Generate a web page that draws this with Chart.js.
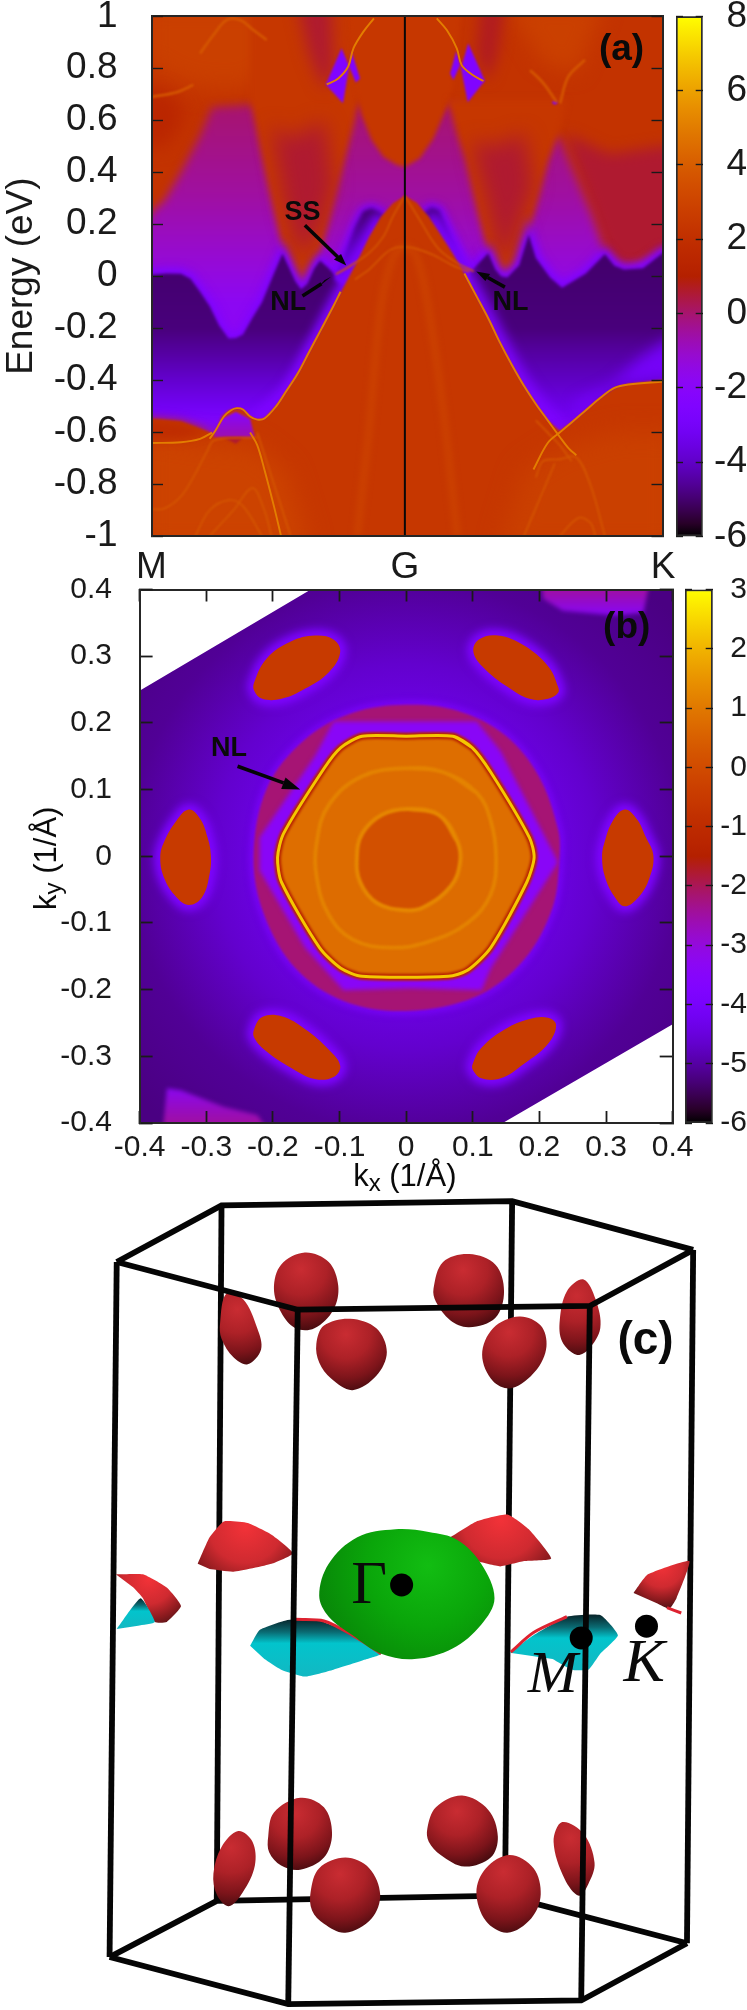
<!DOCTYPE html>
<html>
<head>
<meta charset="utf-8">
<style>
  html, body { margin: 0; padding: 0; background: #fff; }
  body { position: relative; width: 747px; height: 2010px; overflow: hidden; }
  canvas { position: absolute; }
</style>
<script src="https://cdn.jsdelivr.net/npm/chart.js@4"></script>
</head>
<body>
<canvas id="panelA" width="680" height="585" style="left:0;top:0"></canvas>
<canvas id="barA" width="71" height="560" style="left:676px;top:0"></canvas>
<canvas id="panelB" width="720" height="640" style="left:0;top:570px"></canvas>
<canvas id="barB" width="62" height="580" style="left:685px;top:570px"></canvas>
<canvas id="panelC" width="747" height="830" style="left:0;top:1180px"></canvas>
<script>
// ---- panel (a): ticks
const energyTicks = [-1, -0.8, -0.6, -0.4, -0.2, 0, 0.2, 0.4, 0.6, 0.8, 1];
const pathTicks = [318, 850, 1392];
const pathLabels = ['M', 'G', 'K'];
const barTicksA = [-6, -4, -2, 0, 2, 4, 6, 8];

// ---- panel (a): regions, [path position, energy]
const wholeA = [[300, 1.05], [1420, 1.05], [1420, -1.05], [300, -1.05]];
const lightUpper = [[300, 1.05], [600, 1.05], [620, 0.85], [520, 0.72], [440, 0.72], [380, 0.74], [300, 0.82]];
const lightTopRight = [[1060, 1.05], [1270, 1.05], [1210, 0.78], [1140, 0.82]];
const wineLeftTop = [[300, 0.73], [360, 0.7], [390, 0.62], [350, 0.5], [300, 0.5]];
const wineRight = [[1185, 0.55], [1280, 0.47], [1392, 0.5], [1420, 0.5], [1420, 0.08], [1392, 0.09], [1310, 0.02], [1270, 0.09], [1242, 0.235]];
const magentaBand = [[300, 0.2], [318, 0.246], [345, 0.29], [380, 0.4], [420, 0.54], [445, 0.65], [525, 0.66], [950, 0.66], [1100, 0.6], [1175, 0.53], [1242, 0.235], [1270, 0.09], [1310, 0.02], [1392, 0.09], [1420, 0.1], [1420, -0.3], [300, -0.3]];
const parabolaLeft = [[525, 0.68], [545, 0.5], [560, 0.37], [575, 0.25], [590, 0.136], [605, 0.05], [620, -0.01], [632, -0.05], [645, -0.03], [660, 0.03], [680, 0.14], [700, 0.28], [720, 0.42], [745, 0.6], [760, 0.75], [790, 1.05], [525, 1.05]];
const parabolaCentre = [[745, 0.74], [759, 0.62], [780, 0.524], [805, 0.459], [833, 0.428], [850, 0.42], [881, 0.453], [910, 0.53], [934, 0.633], [952, 0.736], [970, 1.05], [730, 1.05]];
const parabolaRight = [[940, 0.68], [960, 0.54], [976, 0.453], [1004, 0.235], [1025, 0.09], [1040, 0.026], [1052, 0], [1065, -0.005], [1078, 0.01], [1090, 0.042], [1100, 0.09], [1120, 0.235], [1151, 0.44], [1175, 0.56], [1190, 0.68]];
const wineInnerLeft = [[570, 0.58], [615, 0.53], [680, 0.6], [700, 0.35], [675, 0.2], [640, 0.08], [625, 0.1], [600, 0.25]];
const wineInnerRight = [[990, 0.52], [1040, 0.5], [1100, 0.55], [1120, 0.35], [1090, 0.2], [1065, 0.06], [1045, 0.1], [1020, 0.3]];
const wineTopLeft = [[625, 1.05], [695, 1.05], [700, 0.78], [680, 0.72], [650, 0.85]];
const wineTopRight = [[1010, 1.05], [1060, 1.05], [1045, 0.85], [1025, 0.75], [1000, 0.85]];
const darkLeft = [[300, 0], [318, 0.005], [350, 0.01], [380, 0.009], [400, -0.01], [420, -0.06], [440, -0.115], [460, -0.19], [480, -0.24], [495, -0.238], [510, -0.225], [530, -0.16], [550, -0.1], [575, 0.01], [593, 0.087], [605, 0.04], [620, -0.02], [632, -0.05], [645, -0.03], [660, 0.03], [672, 0.06], [690, 0.03], [705, 0], [725, -0.03], [800, -0.3], [600, -0.62], [300, -0.62]];
const darkRight = [[985, 0.01], [1025, 0.089], [1040, 0.026], [1052, 0], [1065, -0.005], [1090, 0.042], [1110, 0.16], [1125, 0.07], [1155, -0.005], [1180, -0.045], [1230, 0.01], [1270, 0.085], [1290, 0.04], [1310, 0.026], [1350, 0.03], [1392, 0.09], [1420, 0.1], [1420, -0.7], [1150, -0.7], [1000, -0.2]];
const wedgeLeft = [[700, -0.01], [720, 0.07], [745, 0.19], [762, 0.25], [780, 0.262], [800, 0.245], [815, 0.2], [790, 0.1], [760, 0], [720, -0.04]];
const wedgeRight = [[985, 0.02], [960, 0.1], [935, 0.2], [922, 0.255], [905, 0.265], [888, 0.24], [880, 0.2], [925, 0.08], [965, -0.03]];
const brightRight = [[1210, -0.55], [1300, -0.42], [1392, -0.4], [1420, -0.4], [1420, -0.23], [1392, -0.255], [1340, -0.32], [1280, -0.42], [1210, -0.48]];
const domeEdgeLeft = [[540, -0.55], [600, -0.445], [650, -0.288], [700, -0.115], [750, 0.057], [800, 0.23]];
const domeEdgeRight = [[900, 0.23], [950, 0.089], [1000, -0.076], [1050, -0.257], [1100, -0.422], [1175, -0.595]];
const dome = [[300, -0.555], [318, -0.548], [380, -0.558], [440, -0.6], [452, -0.61], [465, -0.54], [480, -0.516], [495, -0.508], [510, -0.513], [525, -0.54], [540, -0.552], [555, -0.548], [580, -0.5], [600, -0.445], [625, -0.375], [650, -0.288], [675, -0.202], [700, -0.115], [725, -0.029], [750, 0.057], [775, 0.152], [800, 0.23], [825, 0.281], [850, 0.309], [875, 0.282], [900, 0.23], [925, 0.16], [950, 0.089], [975, 0.01], [1000, -0.076], [1025, -0.162], [1050, -0.257], [1075, -0.343], [1100, -0.422], [1125, -0.492], [1150, -0.555], [1175, -0.595], [1200, -0.563], [1230, -0.516], [1260, -0.469], [1290, -0.43], [1320, -0.414], [1392, -0.399], [1420, -0.399], [1420, -1.05], [300, -1.05]];
const lightLowerLeft = [[300, -0.6], [440, -0.64], [530, -0.65], [600, -0.75], [650, -1.05], [300, -1.05]];
const lightLowerRight = [[1100, -0.75], [1175, -0.66], [1300, -0.6], [1420, -0.6], [1420, -1.05], [1050, -1.05]];
const wineShelf = [[300, -0.55], [380, -0.56], [440, -0.6], [380, -0.63], [300, -0.63]];
const bumpHollow = [[448, -0.62], [465, -0.55], [495, -0.522], [525, -0.55], [535, -0.62]];
const bumpCap = [[470, -0.622], [490, -0.622], [510, -0.622], [495, -0.645]];
const diamondsA = [
  [[684, 0.738], [717, 0.877], [733, 0.807], [720, 0.665]],
  [[738, 0.864], [756, 0.761], [747, 0.745], [733, 0.807]],
  [[958, 0.866], [966, 0.813], [952, 0.755], [945, 0.78]],
  [[983, 0.896], [1018, 0.752], [982, 0.669], [968, 0.8]],
  [[1158, 0.668], [1165, 0.676], [1172, 0.668], [1165, 0.66]]
];

// ---- panel (a): thin bands, [path position, energy]
const brightBands = [
  [[440, -0.626], [452, -0.595], [470, -0.54], [485, -0.516], [497, -0.508], [510, -0.513], [525, -0.54], [540, -0.552], [555, -0.548], [580, -0.5], [600, -0.445], [625, -0.375], [650, -0.288], [675, -0.202], [700, -0.115], [715, -0.06]],
  [[975, 0.01], [1000, -0.076], [1025, -0.162], [1050, -0.257], [1075, -0.343], [1100, -0.422], [1125, -0.492], [1150, -0.555], [1175, -0.618], [1195, -0.665], [1210, -0.689]],
  [[1120, -0.744], [1150, -0.642], [1175, -0.602], [1200, -0.563], [1230, -0.516], [1260, -0.469], [1290, -0.43], [1320, -0.417], [1392, -0.406]],
  [[318, -0.642], [380, -0.639], [420, -0.626], [445, -0.602]],
  [[525, -0.602], [540, -0.65], [555, -0.744], [575, -0.885], [590, -1]],
  [[686, 0.738], [710, 0.761], [731, 0.807], [742, 0.877], [763, 0.941], [785, 0.992]],
  [[917, 0.992], [938, 0.947], [959, 0.877], [969, 0.813], [990, 0.777], [1015, 0.751]]
];
const softBands = [
  [[318, 0.69], [371, 0.708], [406, 0.736]],
  [[420, 0.857], [448, 0.928], [476, 0.986], [504, 0.986], [532, 0.947], [560, 0.909]],
  [[1113, 0.793], [1141, 0.742], [1169, 0.669]],
  [[1228, 0.832], [1193, 0.767], [1176, 0.665]]
];
const faintBands = [
  [[318, -0.897], [345, -0.894], [380, -0.847], [410, -0.76], [435, -0.673], [450, -0.631], [540, -0.621]],
  [[540, -0.602], [565, -0.744], [590, -0.885], [610, -1]],
  [[410, -1], [440, -0.901], [480, -0.862], [510, -0.885], [550, -1]],
  [[440, -1], [490, -0.901], [530, -0.815], [555, -0.901], [570, -1]],
  [[745, -0.013], [775, 0.026], [810, 0.089], [830, 0.109], [850, 0.112], [875, 0.105], [910, 0.081], [950, 0.042], [985, 0.018]],
  [[705, 0.007], [735, 0.039], [775, 0.089], [805, 0.152], [825, 0.23], [850, 0.309]],
  [[850, 0.309], [880, 0.22], [905, 0.144], [925, 0.097], [960, 0.05], [995, 0.018]],
  [[1125, -0.775], [1140, -0.712], [1175, -0.705], [1210, -0.697], [1240, -0.806], [1270, -1]],
  [[1100, -1], [1130, -0.87], [1165, -0.72]],
  [[1175, -1], [1215, -0.93], [1240, -0.95], [1250, -1]],
  [[1125, -0.555], [1150, -0.602], [1175, -0.65], [1200, -0.712]]
];
const wideBands = [
  [[750, -1], [775, -0.587], [800, -0.115], [825, 0.073], [850, 0.112], [875, 0.073], [900, -0.131], [930, -0.508], [960, -1]]
];

// ---- panel (a): arrows and labels, [path position, energy]
const arrowsA = [
  { tail: [[640, 0.196], [709, 0.074]], head: [[727, 0.041], [716, 0.085], [701, 0.064]] },
  { tail: [[635, -0.076], [675, -0.029]], head: [[695, -0.002], [681, -0.016], [669, -0.041]] },
  { tail: [[1060, -0.042], [1024, -0.005]], head: [[1000, 0.018], [1029, 0.008], [1019, -0.019]] }
];
const notesA = [
  { text: 'SS', at: [635, 0.246], font: 'bold 27px "Liberation Sans"' },
  { text: 'NL', at: [605, -0.1], font: 'bold 27px "Liberation Sans"' },
  { text: 'NL', at: [1072, -0.1], font: 'bold 27px "Liberation Sans"' },
  { text: '(a)', at: [1305, 0.87], font: 'bold 37px "Liberation Sans"' }
];

// ---- panel (b): ticks
const kTicks = [-0.4, -0.3, -0.2, -0.1, 0, 0.1, 0.2, 0.3, 0.4];
const barTicksB = [-6, -5, -4, -3, -2, -1, 0, 1, 2, 3];

// ---- panel (b): regions, [kx, ky]
const zoneB = [[-0.4, 0.248], [-0.143, 0.4], [0.4, 0.4], [0.4, -0.252], [0.145, -0.4], [-0.4, -0.4]];
const cornerTop = [[0.2025, 0.42], [0.206, 0.386], [0.235, 0.368], [0.313, 0.361], [0.356, 0.365], [0.367, 0.42]];
const cornerBottom = [[-0.366, -0.42], [-0.359, -0.348], [-0.338, -0.351], [-0.273, -0.376], [-0.223, -0.388], [-0.202, -0.42]];
const pockets = [
  [[-0.228, 0.261], [-0.209, 0.297], [-0.173, 0.322], [-0.137, 0.331], [-0.109, 0.325], [-0.099, 0.306], [-0.116, 0.276], [-0.152, 0.251], [-0.187, 0.236], [-0.216, 0.236], [-0.228, 0.248]],
  [[0.228, 0.254], [0.213, 0.285], [0.177, 0.316], [0.138, 0.331], [0.109, 0.325], [0.101, 0.306], [0.117, 0.282], [0.152, 0.254], [0.185, 0.236], [0.213, 0.236], [0.228, 0.245]],
  [[-0.228, -0.259], [-0.216, -0.241], [-0.187, -0.24], [-0.152, -0.259], [-0.116, -0.29], [-0.099, -0.314], [-0.109, -0.331], [-0.137, -0.334], [-0.173, -0.317], [-0.209, -0.293], [-0.228, -0.272]],
  [[0.1, -0.311], [0.113, -0.287], [0.149, -0.259], [0.185, -0.244], [0.213, -0.242], [0.225, -0.253], [0.213, -0.281], [0.177, -0.311], [0.142, -0.333], [0.113, -0.333], [0.1, -0.32]],
  [[-0.326, 0.07], [-0.345, 0.053], [-0.363, 0.022], [-0.369, -0.002], [-0.363, -0.033], [-0.345, -0.061], [-0.326, -0.073], [-0.306, -0.061], [-0.295, -0.027], [-0.293, 0.001], [-0.298, 0.028], [-0.309, 0.056]],
  [[0.328, 0.07], [0.31, 0.053], [0.298, 0.022], [0.294, -0.002], [0.299, -0.033], [0.313, -0.061], [0.328, -0.075], [0.349, -0.061], [0.365, -0.033], [0.371, 0.001], [0.36, 0.028], [0.346, 0.056]]
];
const wineDisc = [[0, 0.227], [0.077, 0.218], [0.149, 0.181], [0.199, 0.12], [0.228, 0.04], [0.23, -0.002], [0.22, -0.076], [0.177, -0.155], [0.106, -0.21], [0, -0.232], [-0.094, -0.217], [-0.166, -0.168], [-0.213, -0.088], [-0.229, -0.002], [-0.209, 0.102], [-0.152, 0.175], [-0.08, 0.215]];
const violetStar = [[-0.109, 0.202], [0.106, 0.202], [0.142, 0.157], [0.228, -0.009], [0.127, -0.168], [0.113, -0.201], [0.006, -0.198], [-0.094, -0.201], [-0.152, -0.137], [-0.22, -0.021], [-0.22, 0.028], [-0.137, 0.15]];
const hexagon = [[0, 0.18], [0.07, 0.18], [0.099, 0.163], [0.127, 0.126], [0.185, 0.028], [0.192, -0.002], [0.181, -0.039], [0.127, -0.137], [0.092, -0.171], [0.063, -0.18], [-0.066, -0.18], [-0.098, -0.168], [-0.13, -0.137], [-0.187, -0.039], [-0.193, -0.002], [-0.184, 0.034], [-0.123, 0.132], [-0.098, 0.163], [-0.066, 0.18]];
const middleRing = [[0.002, 0.132], [0.056, 0.126], [0.106, 0.095], [0.127, 0.053], [0.135, -0.002], [0.127, -0.057], [0.092, -0.1], [0.034, -0.128], [-0.023, -0.137], [-0.08, -0.125], [-0.116, -0.088], [-0.134, -0.033], [-0.134, 0.022], [-0.116, 0.077], [-0.066, 0.12]];
const innerRing = [[0.002, 0.071], [0.049, 0.062], [0.077, 0.022], [0.081, -0.009], [0.067, -0.045], [0.027, -0.076], [-0.001, -0.081], [-0.044, -0.07], [-0.069, -0.039], [-0.074, -0.002], [-0.066, 0.034], [-0.037, 0.062]];
const arrowB = { tail: [[-0.253, 0.135], [-0.184, 0.11]], head: [[-0.159, 0.1], [-0.181, 0.118], [-0.1875, 0.101]] };
const notesB = [
  { text: 'NL', at: [-0.266, 0.161], font: 'bold 27px "Liberation Sans"' },
  { text: '(b)', at: [0.331, 0.343], font: 'bold 37px "Liberation Sans"' },
  { parts: [['k', 31, 0], ['x', 24, 7], [' (1/Å)', 31, 0]], at: [-0.002, -0.482] },
  { parts: [['k', 31, 0], ['y', 24, 7], [' (1/Å)', 31, 0]], at: [-0.538, -0.003], turn: true }
];

// ---- panel (c): 3D picture coordinates
const frameBack = [
  [[245, 155], [465, 48], [1075, 40], [1455, 132]],
  [[230, 1468], [455, 1362], [1060, 1352], [1442, 1442]],
  [[245, 155], [230, 1468]],
  [[465, 48], [455, 1362]],
  [[1075, 40], [1060, 1352]],
  [[1455, 132], [1442, 1442]]
];
const frameFront = [
  [[245, 155], [625, 245], [1238, 238], [1455, 132]],
  [[230, 1468], [605, 1557], [1220, 1550], [1442, 1442]],
  [[625, 245], [605, 1557]],
  [[1238, 238], [1220, 1550]]
];
const redPockets = [
  [[575, 205], [590, 160], [640, 137], [690, 155], [710, 200], [700, 245], [660, 280], [620, 280], [590, 250]],
  [[910, 205], [930, 155], [985, 140], [1040, 160], [1058, 210], [1040, 260], [985, 278], [945, 265], [915, 230]],
  [[462, 270], [475, 215], [510, 225], [540, 280], [548, 320], [520, 348], [490, 335], [465, 300]],
  [[664, 310], [680, 275], [735, 262], [790, 280], [812, 325], [790, 370], [740, 397], [695, 375], [670, 345]],
  [[1012, 330], [1035, 280], [1090, 258], [1135, 275], [1147, 315], [1125, 360], [1075, 393], [1035, 380]],
  [[1175, 265], [1190, 210], [1225, 188], [1250, 225], [1260, 280], [1235, 320], [1210, 330], [1180, 305]],
  [[563, 1240], [575, 1195], [630, 1167], [680, 1185], [697, 1235], [680, 1280], [630, 1303], [590, 1295], [565, 1270]],
  [[897, 1225], [915, 1185], [970, 1163], [1025, 1190], [1045, 1240], [1030, 1280], [975, 1297], [925, 1275], [900, 1250]],
  [[448, 1310], [465, 1260], [500, 1230], [530, 1250], [535, 1295], [510, 1345], [480, 1372], [455, 1350]],
  [[652, 1345], [670, 1300], [725, 1280], [775, 1300], [798, 1350], [780, 1395], [725, 1422], [680, 1405], [655, 1380]],
  [[1000, 1345], [1020, 1300], [1070, 1275], [1120, 1300], [1135, 1350], [1115, 1395], [1065, 1422], [1020, 1400]],
  [[1162, 1250], [1180, 1213], [1225, 1235], [1248, 1290], [1235, 1330], [1215, 1352], [1185, 1320]]
];
const redWedges = [
  [[415, 725], [440, 675], [470, 645], [520, 648], [570, 670], [615, 705], [570, 725], [490, 740], [440, 735]],
  [[945, 675], [1000, 645], [1065, 632], [1110, 660], [1157, 715], [1100, 720], [1050, 730], [1000, 720]],
  [[243, 745], [300, 745], [350, 770], [380, 805], [350, 835], [325, 835], [300, 790], [280, 770]],
  [[1330, 780], [1360, 745], [1447, 720], [1420, 790], [1405, 810], [1380, 800]]
];
const cyanSheets = [
  [[525, 880], [545, 850], [600, 832], [660, 830], [720, 850], [800, 895], [770, 905], [700, 925], [640, 938], [590, 925], [555, 905]],
  [[1070, 893], [1120, 860], [1190, 825], [1260, 822], [1297, 860], [1260, 895], [1235, 925], [1200, 925], [1160, 905]],
  [[245, 848], [295, 790], [325, 835], [290, 842]]
];
const redRims = [
  [[620, 830], [680, 833], [740, 860], [800, 895]],
  [[1072, 892], [1120, 855], [1190, 825]],
  [[1400, 808], [1430, 818]]
];
const greenPocket = [[670, 785], [690, 725], [750, 675], [830, 660], [900, 665], [960, 680], [1010, 725], [1038, 790], [1010, 840], [950, 885], [870, 905], [800, 895], [740, 860], [690, 825]];
const symmetryPoints = [[843, 765], [1220, 865], [1357, 843]];
const notesC = [
  { text: 'Γ', at: [775, 768], font: '62px "Liberation Serif"' },
  { text: 'M', at: [1160, 938], font: 'italic 60px "Liberation Serif"' },
  { text: 'K', at: [1352, 915], font: 'italic 62px "Liberation Serif"' },
  { text: '(c)', at: [1355, 305], font: 'bold 46px "Liberation Sans"' }
];

Chart.defaults.animation = false;
Chart.defaults.responsive = false;
Chart.defaults.plugins.legend.display = false;
Chart.defaults.plugins.tooltip.enabled = false;
Chart.defaults.font.family = '"Liberation Sans"';
Chart.defaults.color = '#1a1a1a';

// gnuplot pm3d palette 7,5,15
function heat(x) {
  const r = Math.sqrt(x), g = x * x * x, b = Math.max(0, Math.sin(2 * Math.PI * x));
  return 'rgb(' + Math.round(r * 255) + ',' + Math.round(g * 255) + ',' + Math.round(b * 255) + ')';
}

// run over the first points again so the smoothed outline has no kink where it closes
const closed = p => [...p, p[0], p[1], p[2]];

function region(points, color, blur, extra) {
  return Object.assign({
    data: points.map(p => ({ x: p[0], y: p[1] })),
    showLine: true, fill: 'shape', backgroundColor: color, borderColor: 'transparent',
    borderWidth: 0, pointRadius: 0, tension: 0, clip: 0, blur: blur || 0
  }, extra);
}

function band(points, color, width, blur, tension) {
  return {
    data: points.map(p => ({ x: p[0], y: p[1] })),
    showLine: true, fill: false, borderColor: color, borderWidth: width,
    pointRadius: 0, tension: tension === undefined ? 0.35 : tension, clip: 0, blur: blur || 0
  };
}

// vertical gradient, stops are [axis value, palette position]
function fade(stops) {
  return c => {
    const chart = c.chart;
    if (!chart.chartArea) return heat(stops[0][1]);
    const first = stops[0][0], last = stops[stops.length - 1][0];
    const y = chart.scales.y;
    const g = chart.ctx.createLinearGradient(0, y.getPixelForValue(first), 0, y.getPixelForValue(last));
    stops.forEach(s => g.addColorStop((s[0] - first) / (last - first), heat(s[1])));
    return g;
  };
}

function barGradient(c) {
  const chart = c.chart;
  if (!chart.chartArea) return '#000';
  const g = chart.ctx.createLinearGradient(0, chart.chartArea.bottom, 0, chart.chartArea.top);
  for (let i = 0; i <= 40; i++) g.addColorStop(i / 40, heat(i / 40));
  return g;
}

// radial shading over a mark's own bounding box, stops are [position, colour]
function shade(stops, fx, fy) {
  return c => {
    const chart = c.chart;
    if (!chart.chartArea || !c.dataset) return stops[0][1];
    const xs = c.dataset.data.map(p => chart.scales.x.getPixelForValue(p.x));
    const ys = c.dataset.data.map(p => chart.scales.y.getPixelForValue(p.y));
    const x0 = Math.min(...xs), x1 = Math.max(...xs), y0 = Math.min(...ys), y1 = Math.max(...ys);
    const cx = x0 + (x1 - x0) * fx, cy = y0 + (y1 - y0) * fy;
    const g = chart.ctx.createRadialGradient(cx, cy, 0, cx, cy, Math.max(x1 - x0, y1 - y0) * 0.85);
    stops.forEach(s => g.addColorStop(s[0], s[1]));
    return g;
  };
}

// same, straight down the bounding box
function drape(stops) {
  return c => {
    const chart = c.chart;
    if (!chart.chartArea || !c.dataset) return stops[0][1];
    const ys = c.dataset.data.map(p => chart.scales.y.getPixelForValue(p.y));
    const g = chart.ctx.createLinearGradient(0, Math.min(...ys), 0, Math.max(...ys));
    stops.forEach(s => g.addColorStop(s[0], s[1]));
    return g;
  };
}

// fixed pixel width / height for an axis box, tick label overhang must not shrink the plot
const wide = w => s => { s.width = w; s.paddingTop = 0; s.paddingBottom = 0; };
const tall = h => s => { s.height = h; s.paddingLeft = 0; s.paddingRight = 0; };
const fixTicks = list => s => { s.ticks = list.map(value => ({ value })); };

// per dataset blur, index 0 is painted last
function setBlur(chart, index) {
  const ds = chart.data.datasets[index];
  chart.ctx.filter = ds && ds.blur ? 'blur(' + ds.blur + 'px)' : 'none';
}
const softEdges = {
  id: 'softEdges',
  beforeDatasetsDraw(chart) { setBlur(chart, chart.data.datasets.length - 1); },
  afterDatasetDraw(chart, args) { setBlur(chart, args.index - 1); },
  afterDatasetsDraw(chart) { chart.ctx.filter = 'none'; }
};

function textNotes(list) {
  return {
    id: 'textNotes',
    afterDraw(chart) {
      const ctx = chart.ctx;
      list.forEach(n => {
        const px = chart.scales.x.getPixelForValue(n.at[0]);
        const py = chart.scales.y.getPixelForValue(n.at[1]);
        ctx.save();
        ctx.fillStyle = '#0a0a0a';
        ctx.translate(px, py);
        if (n.turn) ctx.rotate(-Math.PI / 2);
        if (n.text) {
          ctx.font = n.font;
          ctx.textAlign = 'center';
          ctx.textBaseline = 'middle';
          ctx.fillText(n.text, 0, 0);
        } else {
          ctx.textBaseline = 'middle';
          ctx.textAlign = 'left';
          let total = 0;
          n.parts.forEach(p => { ctx.font = p[1] + 'px "Liberation Sans"'; total += ctx.measureText(p[0]).width; });
          let x = -total / 2;
          n.parts.forEach(p => {
            ctx.font = p[1] + 'px "Liberation Sans"';
            ctx.fillText(p[0], x, p[2]);
            x += ctx.measureText(p[0]).width;
          });
        }
        ctx.restore();
      });
    }
  };
}

function arrow(a) {
  return [band(a.tail, '#050505', 3.6, 0, 0), region(a.head, '#050505')];
}

const frameStyle = { color: '#262626', width: 2, z: 3 };
function inwardGrid(length, width) {
  return { drawOnChartArea: false, tickLength: -length, tickWidth: width, tickColor: '#1a1a1a', z: 3 };
}

// ---------------- panel (a)
const layersA = [
  region(wholeA, heat(0.585)),
  region(lightUpper, heat(0.63), 12),
  region(lightTopRight, heat(0.63), 10),
  region(wineLeftTop, heat(0.53), 9),
  region(wineRight, heat(0.47), 7),
  region(magentaBand, fade([[0.66, 0.43], [0.3, 0.39], [0.05, 0.34], [-0.1, 0.3]]), 5),
  region(parabolaLeft, heat(0.6), 3),
  region(parabolaCentre, heat(0.6), 2),
  region(parabolaRight, heat(0.6), 3),
  region(wineInnerLeft, heat(0.47), 10),
  region(wineInnerRight, heat(0.47), 10),
  region(wineTopLeft, heat(0.47), 8),
  region(wineTopRight, heat(0.48), 7),
  region(darkLeft, heat(0.26), 5, { borderColor: heat(0.25), borderWidth: 10 }),
  region(darkRight, heat(0.26), 5, { borderColor: heat(0.25), borderWidth: 10 }),
  region(wedgeLeft, heat(0.26), 4, { borderColor: heat(0.25), borderWidth: 8 }),
  region(wedgeRight, heat(0.26), 4, { borderColor: heat(0.25), borderWidth: 8 }),
  region(darkLeft, fade([[0.05, 0.07], [-0.2, 0.08], [-0.3, 0.11], [-0.4, 0.15], [-0.5, 0.2], [-0.56, 0.24]]), 1.5),
  region(darkRight, fade([[0.05, 0.07], [-0.2, 0.08], [-0.3, 0.11], [-0.4, 0.14], [-0.5, 0.18], [-0.6, 0.24]]), 1.5),
  region(wedgeLeft, fade([[0.26, 0.07], [0.1, 0.14], [-0.02, 0.22]]), 2),
  region(wedgeRight, fade([[0.26, 0.08], [0.1, 0.16], [-0.02, 0.24]]), 2),
  region(brightRight, heat(0.21), 7),
  band(domeEdgeLeft, heat(0.24), 14, 5),
  band(domeEdgeRight, heat(0.24), 16, 6),
  region(dome, heat(0.6), 0.8),
  region(lightLowerLeft, heat(0.64), 12),
  region(lightLowerRight, heat(0.63), 12),
  region(wineShelf, heat(0.56), 5),
  region(bumpHollow, fade([[-0.53, 0.28], [-0.62, 0.38]]), 1),
  region(bumpCap, heat(0.47), 1)
];
diamondsA.forEach(d => layersA.push(region(d, heat(0.25), 0.8)));
wideBands.forEach(b => layersA.push(band(b, heat(0.64), 6, 3)));
faintBands.forEach(b => layersA.push(band(b, heat(0.7), 1.6, 0.9)));
softBands.forEach(b => layersA.push(band(b, heat(0.7), 2.6, 1.2)));
brightBands.forEach(b => layersA.push(band(b, heat(0.79), 1.9, 0.6)));
arrowsA.forEach(a => layersA.push(...arrow(a)));
layersA.push(band([[850, -1], [850, 1]], '#080808', 2, 0, 0));

new Chart(document.getElementById('panelA'), {
  type: 'scatter',
  data: { datasets: layersA.reverse() },
  plugins: [softEdges, textNotes(notesA)],
  options: {
    layout: { padding: { top: 16.3, right: 17, left: 0, bottom: 0 }, autoPadding: false },
    scales: {
      x: {
        type: 'linear', min: 318, max: 1392, position: 'bottom',
        afterBuildTicks: fixTicks(pathTicks), afterFit: tall(49),
        grid: { display: false }, border: frameStyle,
        ticks: { callback: (v, i) => pathLabels[i], font: { size: 37 }, padding: 2, maxRotation: 0, autoSkip: false }
      },
      x2: {
        axis: 'x', type: 'linear', min: 318, max: 1392, position: 'top',
        afterBuildTicks: fixTicks([]), afterFit: tall(0),
        grid: { display: false }, border: frameStyle, ticks: { display: false }
      },
      y: {
        min: -1, max: 1, position: 'left',
        afterBuildTicks: fixTicks(energyTicks), afterFit: wide(151.5),
        grid: inwardGrid(11.5, 1.4), border: frameStyle,
        ticks: { callback: v => String(v), font: { size: 37 }, padding: 45.5, autoSkip: false },
        title: { display: true, text: 'Energy (eV)', font: { size: 37 }, padding: 0 }
      },
      y2: {
        axis: 'y', min: -1, max: 1, position: 'right',
        afterBuildTicks: fixTicks(energyTicks), afterFit: wide(0),
        grid: inwardGrid(11.5, 1.4), border: frameStyle, ticks: { display: false }
      }
    }
  }
});

// colour bars
function colourBar(id, low, high, list, right, fontSize, pad, top, bottom) {
  return new Chart(document.getElementById(id), {
    type: 'bar',
    data: {
      labels: [''],
      datasets: [{
        data: [[low, high]], backgroundColor: barGradient, borderColor: '#2b2b2b', borderWidth: 2,
        borderSkipped: false, barPercentage: 1, categoryPercentage: 1
      }]
    },
    options: {
      layout: { padding: { top, bottom, left: 0, right: 0 }, autoPadding: false },
      scales: {
        x: { display: false },
        y: {
          min: low, max: high, position: 'right',
          afterBuildTicks: fixTicks(list), afterFit: wide(right),
          grid: inwardGrid(7, 1.4), border: { display: false },
          ticks: { callback: v => String(v), font: { size: fontSize }, padding: pad, crossAlign: 'far', autoSkip: false }
        },
        y2: {
          axis: 'y', min: low, max: high, position: 'left',
          afterBuildTicks: fixTicks(list), afterFit: wide(0),
          grid: inwardGrid(7, 1.4), border: { display: false }, ticks: { display: false }
        }
      }
    }
  });
}
colourBar('barA', -6, 8, barTicksA, 44.3, 37, 18.4, 16.3, 23.5);
colourBar('barB', -6, 3, barTicksB, 34.3, 30, 14.6, 19.5, 27);

// ---------------- panel (b)
const zoneFill = c => {
  const chart = c.chart;
  if (!chart.chartArea) return heat(0.1);
  const cx = chart.scales.x.getPixelForValue(0), cy = chart.scales.y.getPixelForValue(0);
  const g = chart.ctx.createRadialGradient(cx, cy, 120, cx, cy, 360);
  g.addColorStop(0, heat(0.19));
  g.addColorStop(0.3, heat(0.15));
  g.addColorStop(0.65, heat(0.1));
  g.addColorStop(1, heat(0.085));
  return g;
};
const layersB = [
  region(zoneB, zoneFill),
  region(cornerTop, fade([[0.4, 0.39], [0.36, 0.28]]), 2),
  region(cornerBottom, fade([[-0.34, 0.28], [-0.4, 0.39]]), 2)
];
pockets.forEach(p => layersB.push(region(closed(p), heat(0.24), 5, { borderColor: heat(0.24), borderWidth: 12, tension: 0.4 })));
pockets.forEach(p => layersB.push(region(closed(p), heat(0.61), 0.7, { tension: 0.4 })));
layersB.push(
  region(closed(wineDisc), heat(0.24), 4, { borderColor: heat(0.24), borderWidth: 4, tension: 0.35 }),
  region(closed(wineDisc), heat(0.425), 0.8, { tension: 0.35 }),
  region(violetStar, heat(0.29), 2),
  region(closed(hexagon), heat(0.755), 1, { borderColor: heat(0.52), borderWidth: 7, tension: 0.25 }),
  band(closed(hexagon), heat(0.92), 3, 0.7, 0.25),
  region(closed(middleRing), heat(0.75), 1.2, { borderColor: heat(0.8), borderWidth: 3.8, tension: 0.4 }),
  region(closed(innerRing), heat(0.68), 1.2, { borderColor: heat(0.81), borderWidth: 4, tension: 0.4 }),
  ...arrow(arrowB)
);

new Chart(document.getElementById('panelB'), {
  type: 'scatter',
  data: { datasets: layersB.reverse() },
  plugins: [softEdges, textNotes(notesB)],
  options: {
    layout: { padding: { top: 19.5, right: 47.3, left: 0, bottom: 0 }, autoPadding: false },
    scales: {
      x: {
        type: 'linear', min: -0.4, max: 0.4, position: 'bottom',
        afterBuildTicks: fixTicks(kTicks), afterFit: tall(87),
        grid: inwardGrid(12, 1.8), border: frameStyle,
        ticks: { callback: v => String(v), font: { size: 30 }, padding: 19, maxRotation: 0, autoSkip: false }
      },
      x2: {
        axis: 'x', type: 'linear', min: -0.4, max: 0.4, position: 'top',
        afterBuildTicks: fixTicks(kTicks), afterFit: tall(0),
        grid: inwardGrid(12, 1.8), border: frameStyle, ticks: { display: false }
      },
      y: {
        min: -0.4, max: 0.4, position: 'left',
        afterBuildTicks: fixTicks(kTicks), afterFit: wide(139.6),
        grid: inwardGrid(13, 1.8), border: frameStyle,
        ticks: { callback: v => String(v), font: { size: 30 }, padding: 40.6, autoSkip: false }
      },
      y2: {
        axis: 'y', min: -0.4, max: 0.4, position: 'right',
        afterBuildTicks: fixTicks(kTicks), afterFit: wide(0),
        grid: inwardGrid(13, 1.8), border: frameStyle, ticks: { display: false }
      }
    }
  }
});

// ---------------- panel (c)
const redShade = shade([[0, '#c92c32'], [0.4, '#ad2127'], [0.72, '#7c141a'], [1, '#3d0a0d']], 0.42, 0.22);
const wedgeShade = shade([[0, '#f23238'], [0.45, '#cf2a30'], [0.72, '#8a1a1e'], [1, '#351012']], 0.5, 0.1);
const cyanShade = drape([[0, '#08262c'], [0.22, '#0a6a72'], [0.42, '#02c4cc'], [1, '#12b8c2']]);
const greenShade = shade([[0, '#12bd12'], [0.4, '#0aa60a'], [0.8, '#088408'], [1, '#066a06']], 0.62, 0.28);
const layersC = [];
frameBack.forEach(f => layersC.push(band(f, '#050505', 5.8, 0, 0)));
redPockets.forEach(p => layersC.push(region(closed(p), redShade, 0, { tension: 0.35 })));
redWedges.forEach(p => layersC.push(region(p, wedgeShade, 0, { tension: 0.15 })));
cyanSheets.forEach(p => layersC.push(region(p, cyanShade, 0, { tension: 0.15 })));
redRims.forEach(p => layersC.push(band(p, '#dd2230', 3, 0, 0.3)));
layersC.push(region(closed(greenPocket), greenShade, 0, { tension: 0.35 }));
frameFront.forEach(f => layersC.push(band(f, '#050505', 5.8, 0, 0)));
layersC.push({
  data: symmetryPoints.map(p => ({ x: p[0], y: p[1] })),
  showLine: false, pointRadius: 11.5, pointBackgroundColor: '#000', pointBorderWidth: 0, clip: 0
});

new Chart(document.getElementById('panelC'), {
  type: 'scatter',
  data: { datasets: layersC.reverse() },
  plugins: [softEdges, textNotes(notesC)],
  options: {
    layout: { padding: 0, autoPadding: false },
    scales: {
      x: { type: 'linear', min: 0, max: 1568, display: false },
      y: { min: 0, max: 1568, reverse: true, display: false }
    }
  }
});
</script>
</body>
</html>
